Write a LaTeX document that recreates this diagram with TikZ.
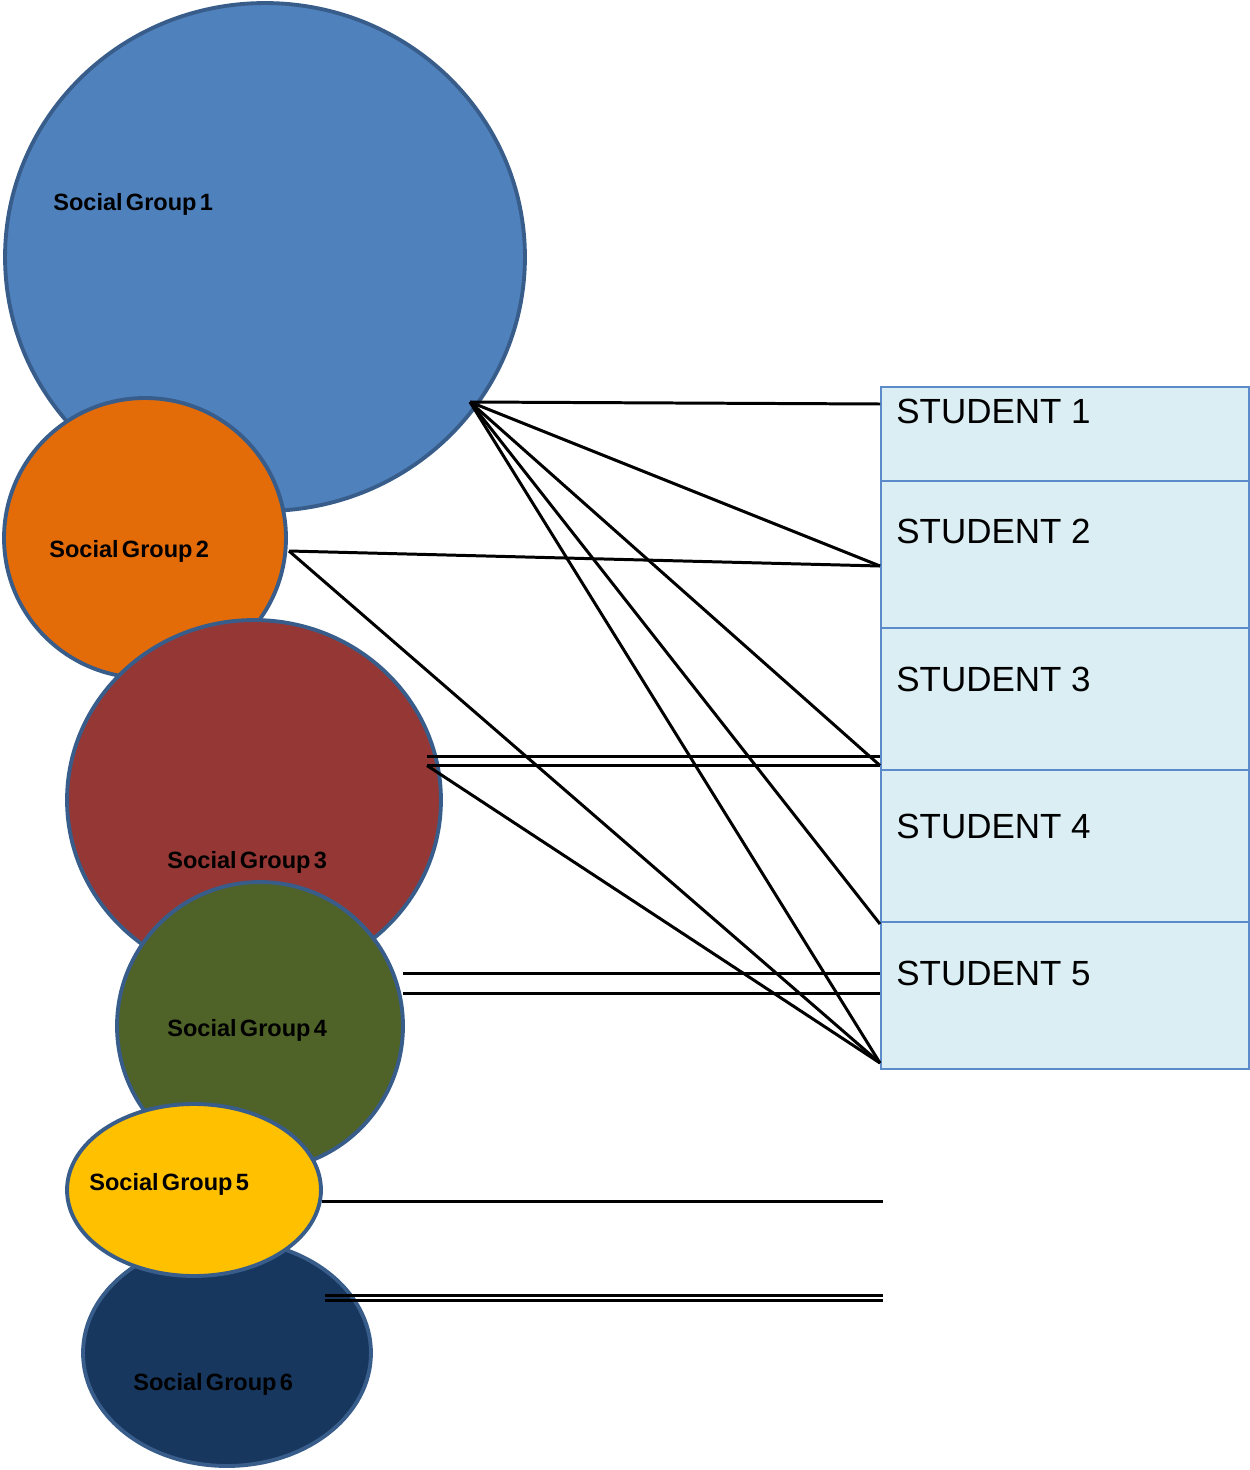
\documentclass[tikz,border=0pt]{standalone}
\usepackage{fontspec}
\setmainfont{Liberation Sans}
\newfontfamily\grpfont[WordSpace=0.5]{Liberation Sans}
\usetikzlibrary{shapes.geometric,calc}
\definecolor{gblue}{HTML}{4F81BD}
\definecolor{gorange}{HTML}{E36C09}
\definecolor{gred}{HTML}{953735}
\definecolor{ggreen}{HTML}{4F6228}
\definecolor{gyellow}{HTML}{FFC000}
\definecolor{gnavy}{HTML}{17375E}
\definecolor{gedge}{HTML}{385D8A}
\definecolor{rowfill}{HTML}{DAEEF3}
\definecolor{rowedge}{HTML}{5B8BC9}
\begin{document}
\begin{tikzpicture}[x=0.02cm,y=-0.02cm,
  grp/.style={ellipse,draw=gedge,line width=2.2pt,inner sep=0pt},
  grplabel/.style={anchor=base west,inner sep=0pt,font=\grpfont\bfseries\fontsize{13.4}{15}\selectfont},
  row/.style={rectangle,draw=rowedge,fill=rowfill,line width=1.4pt,minimum width=7.36cm,inner sep=0pt},
  rowlabel/.style={anchor=base west,inner sep=0pt,font=\fontsize{19.9}{23}\selectfont},
  link/.style={black,line width=1.7pt}]
\useasboundingbox (0,0) rectangle (1250,1470);
% social groups
\node[grp,fill=gblue,minimum width=10.4cm,minimum height=10.16cm] (g1) at (265,257) {};
\node[grp,fill=gorange,minimum width=5.64cm,minimum height=5.6cm] (g2) at (145,538) {};
\node[grp,fill=gred,minimum width=7.48cm,minimum height=7.2cm] (g3) at (254,800) {};
\node[grp,fill=ggreen,minimum width=5.72cm,minimum height=5.76cm] (g4) at (260,1026) {};
\node[grp,fill=gnavy,minimum width=5.76cm,minimum height=4.52cm] (g6) at (227,1353) {};
\node[grp,fill=gyellow,minimum width=5.08cm,minimum height=3.44cm] (g5) at (194,1190) {};
\node[grplabel] (l1) at (53,210) {Social Group 1};
\node[grplabel] (l2) at (49,557) {Social Group 2};
\node[grplabel] (l3) at (167,868) {Social Group 3};
\node[grplabel] (l4) at (167,1036) {Social Group 4};
\node[grplabel] (l5) at (89,1190) {Social Group 5};
\node[grplabel] (l6) at (133,1390) {Social Group 6};
% students
\node[row,minimum height=1.88cm] (s1) at (1065,434) {};
\node[row,minimum height=2.94cm] (s2) at (1065,554.5) {};
\node[row,minimum height=2.84cm] (s3) at (1065,699) {};
\node[row,minimum height=3.04cm] (s4) at (1065,846) {};
\node[row,minimum height=2.94cm] (s5) at (1065,995.5) {};
\node[rowlabel] (r1) at (896,423.5) {STUDENT 1};
\node[rowlabel] (r2) at (896,543.5) {STUDENT 2};
\node[rowlabel] (r3) at (896,691.5) {STUDENT 3};
\node[rowlabel] (r4) at (896,838.5) {STUDENT 4};
\node[rowlabel] (r5) at (896,985.5) {STUDENT 5};
% connector end points
\coordinate (a1) at (470,402);
\coordinate (a2) at (289,551);
\coordinate (a3a) at (427,756);
\coordinate (a3b) at (427,765.5);
\coordinate (a4a) at (403,973);
\coordinate (a4b) at (403,993);
\coordinate (a5) at (322,1201);
\coordinate (a6a) at (325,1295);
\coordinate (a6b) at (325,1300);
\coordinate (t1) at (880,404);
\coordinate (t2) at (880,566);
\coordinate (t3a) at (880,756);
\coordinate (t3) at (880,765.5);
\coordinate (t4) at (880,924);
\coordinate (t4a) at (880,973);
\coordinate (t4b) at (880,993);
\coordinate (t5) at (880,1063);
\coordinate (f5) at (883,1201);
\coordinate (f6a) at (883,1295);
\coordinate (f6b) at (883,1300);
% connectors
\draw[link] (a1) -- (t1);
\draw[link] (a1) -- (t2);
\draw[link] (a1) -- (t3);
\draw[link] (a1) -- (t4);
\draw[link] (a1) -- (t5);
\draw[link] (a2) -- (t2);
\draw[link] (a2) -- (t5);
\draw[link] (a3a) -- (t3a);
\draw[link] (a3b) -- (t3);
\draw[link] (a3b) -- (t5);
\draw[link] (a4a) -- (t4a);
\draw[link] (a4b) -- (t4b);
\draw[link] (a5) -- (f5);
\draw[link] (a6a) -- (f6a);
\draw[link] (a6b) -- (f6b);
\end{tikzpicture}
\end{document}
